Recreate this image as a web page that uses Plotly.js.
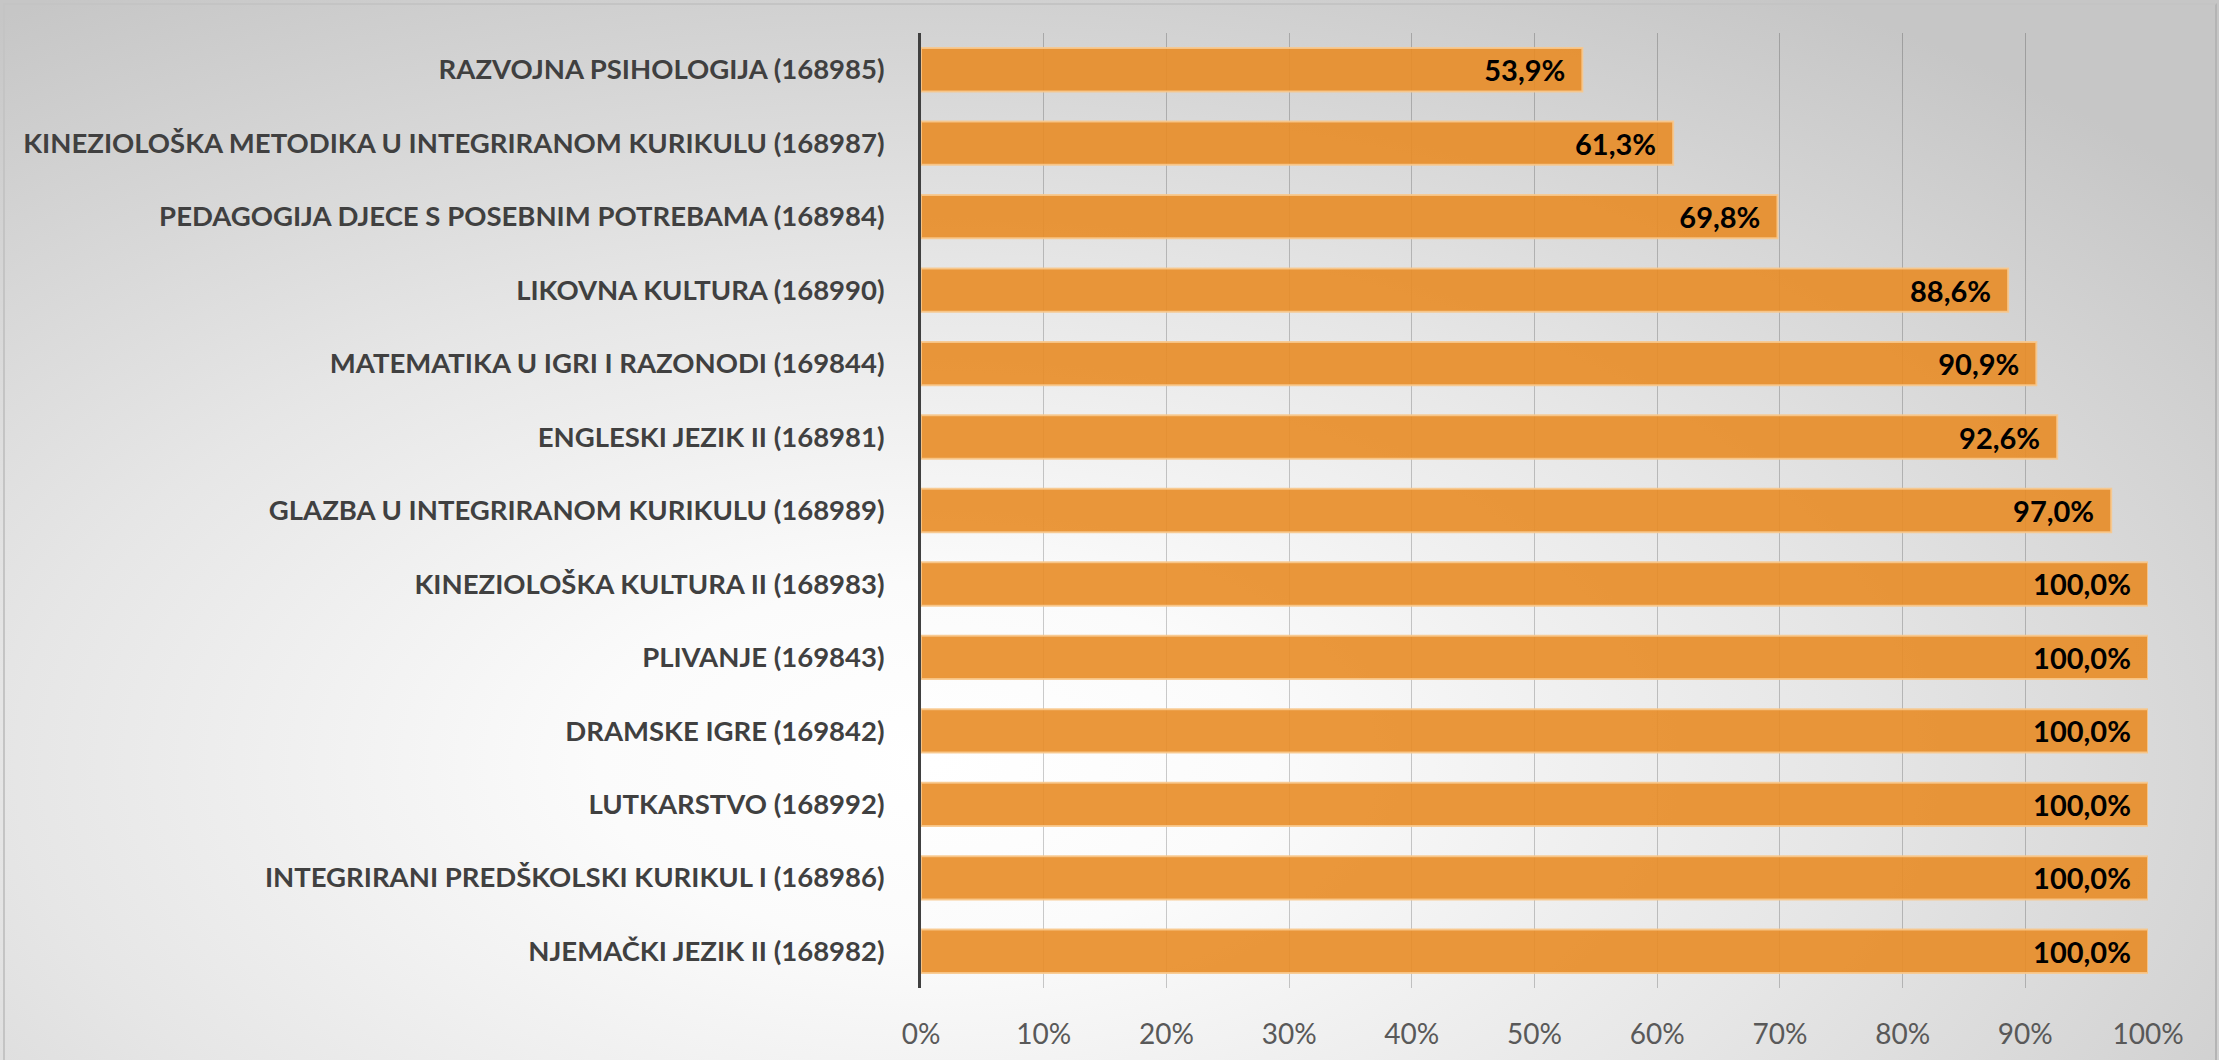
<!DOCTYPE html>
<html>
<head>
<meta charset="utf-8">
<script src="https://cdn.plot.ly/plotly-3.0.1.min.js"></script>
<style>
  html, body { margin: 0; padding: 0; width: 2219px; height: 1060px; overflow: hidden; background: #ffffff; }
  #frame {
    position: absolute; left: 0; top: 0; width: 2219px; height: 1060px;
    background: radial-gradient(ellipse 75% 85% at 42% 72%, #ffffff 0%, #fbfbfb 20%, #e6e6e6 55%, #c6c6c6 100%);
  }
  #edge {
    position: absolute; left: 3px; top: 3px; width: 2210px; height: 1060px;
    border-left: 2px solid #c4c4c4; border-top: 2px solid #c4c4c4; border-right: 2px solid #b4b4b4;
    pointer-events: none;
  }
  #chart { position: absolute; left: 0; top: 0; width: 2219px; height: 1060px; }
</style>
</head>
<body>
<div id="frame"></div>
<div id="edge"></div>
<div id="chart"></div>
<script>
const categories = [
  "RAZVOJNA PSIHOLOGIJA (168985)",
  "KINEZIOLOŠKA METODIKA U INTEGRIRANOM KURIKULU (168987)",
  "PEDAGOGIJA DJECE S POSEBNIM POTREBAMA (168984)",
  "LIKOVNA KULTURA (168990)",
  "MATEMATIKA U IGRI I RAZONODI (169844)",
  "ENGLESKI JEZIK II (168981)",
  "GLAZBA U INTEGRIRANOM KURIKULU (168989)",
  "KINEZIOLOŠKA KULTURA II (168983)",
  "PLIVANJE (169843)",
  "DRAMSKE IGRE (169842)",
  "LUTKARSTVO (168992)",
  "INTEGRIRANI PREDŠKOLSKI KURIKUL I (168986)",
  "NJEMAČKI JEZIK II (168982)"
];
const shares = [0.539, 0.613, 0.698, 0.886, 0.909, 0.926, 0.970, 1.0, 1.0, 1.0, 1.0, 1.0, 1.0];
const tickValues = [0, 0.1, 0.2, 0.3, 0.4, 0.5, 0.6, 0.7, 0.8, 0.9, 1.0];

const font = "Lato, 'Open Sans', sans-serif";

const trace = {
  type: 'bar',
  orientation: 'h',
  y: categories,
  x: shares,
  marker: {
    color: 'rgba(232,140,38,0.9)',
    line: { color: 'rgba(248,200,140,0.9)', width: 2 }
  },
  texttemplate: '%{x:.1%}  ',
  textposition: 'inside',
  insidetextanchor: 'end',
  textangle: 0,
  constraintext: 'none',
  textfont: { family: font, size: 29, color: '#000000', weight: 'bold' },
  hoverinfo: 'skip',
  cliponaxis: false
};

const layout = {
  width: 2219,
  height: 1060,
  paper_bgcolor: 'rgba(0,0,0,0)',
  plot_bgcolor: 'rgba(0,0,0,0)',
  separators: ',.',
  margin: { l: 921, r: 71, t: 33, b: 72, pad: 0 },
  bargap: 0.41,
  showlegend: false,
  font: { family: font },
  xaxis: {
    range: [0, 1],
    tickvals: tickValues,
    tickformat: '.0%',
    showgrid: true,
    gridcolor: 'rgba(0,0,0,0.2)',
    gridwidth: 1,
    zeroline: false,
    showline: false,
    ticks: '',
    ticklabelstandoff: 27,
    tickfont: { family: font, size: 28, color: '#595959' },
    fixedrange: true
  },
  yaxis: {
    type: 'category',
    categoryorder: 'array',
    categoryarray: categories,
    autorange: 'reversed',
    showline: true,
    linecolor: '#404040',
    linewidth: 3,
    showgrid: false,
    zeroline: false,
    ticks: '',
    ticklabelstandoff: 28,
    tickfont: { family: font, size: 27.5, color: '#404040', weight: 'bold' },
    fixedrange: true
  }
};

Plotly.newPlot('chart', [trace], layout, { displayModeBar: false, staticPlot: true });
</script>
</body>
</html>
